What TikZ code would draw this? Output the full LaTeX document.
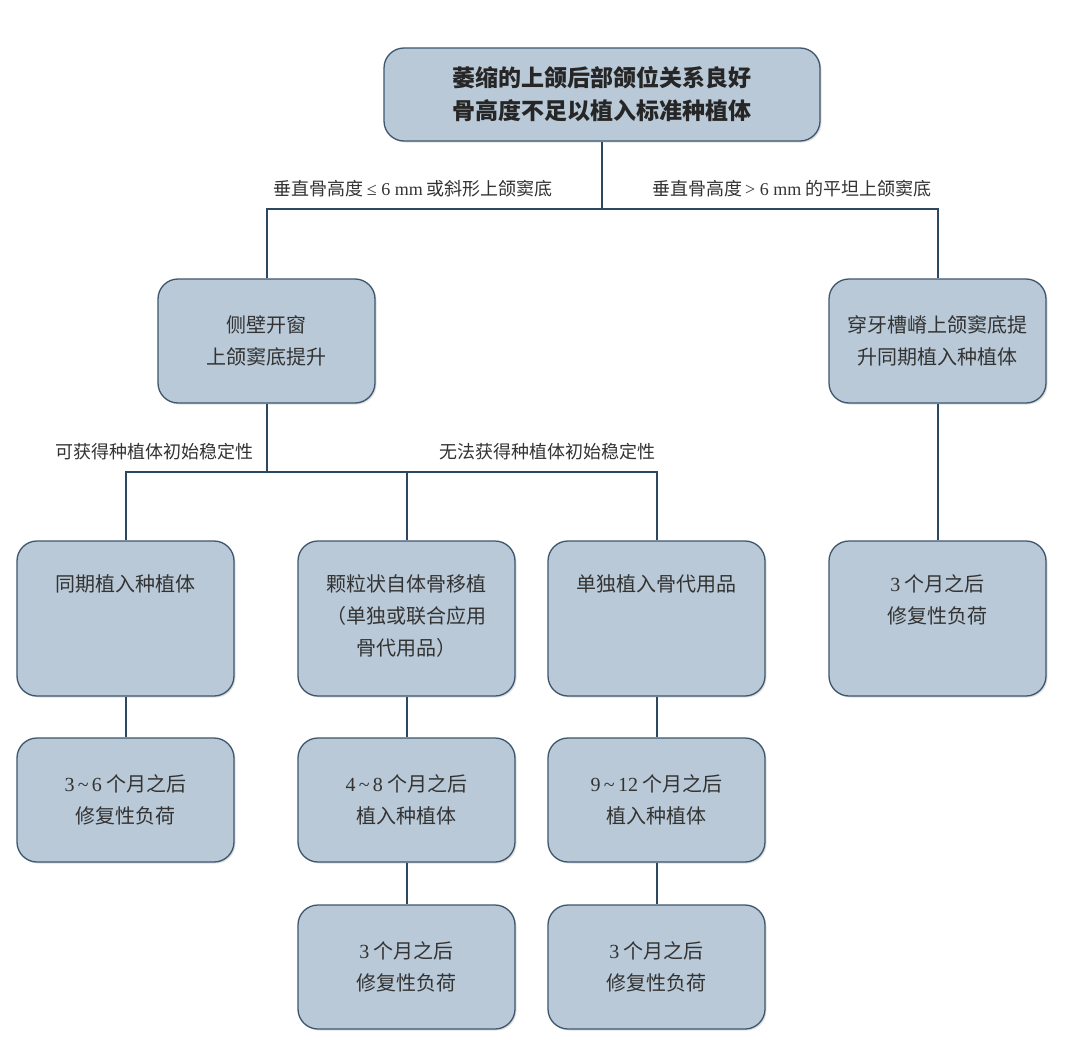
\documentclass[tikz,border=0pt]{standalone}
\usepackage{fontspec}
\setmainfont{Liberation Serif}
\newfontfamily\cjk{Noto Sans CJK SC}
\usetikzlibrary{shadows}
\definecolor{boxfill}{HTML}{B9C9D7}
\definecolor{boxline}{HTML}{3E566E}
\definecolor{conn}{HTML}{2C4760}
\definecolor{txt}{HTML}{333333}
\newcommand\rmn[1]{{\rmfamily #1}}
\begin{document}
\begin{tikzpicture}[x=1pt,y=-1pt,
  box/.style={draw=boxline, line width=1.3pt, fill=boxfill, rounded corners=20pt,
    minimum width=217pt, inner sep=0pt, align=center, text=txt,
    font=\cjk\fontsize{20}{32}\selectfont,
    drop shadow={opacity=0.25, shadow xshift=1.5pt, shadow yshift=-1.5pt, fill=gray}},
  btxt/.style={anchor=north, inner sep=0pt, align=center, text=txt,
    font=\cjk\fontsize{20}{32}\selectfont},
  lbl/.style={inner sep=0pt, text=txt, font=\cjk\fontsize{18}{22}\selectfont},
  conn/.style={draw=conn, line width=2pt}]
\useasboundingbox (0,0) rectangle (1080,1060);
\fill[white] (0,0) rectangle (1080,1060);
% boxes
\node[box, minimum width=436pt, minimum height=93pt,
  font=\cjk\bfseries\fontsize{23}{33}\selectfont, text=black!85] (top) at (602,94.5)
  {萎缩的上颌后部颌位关系良好\\骨高度不足以植入标准种植体};
\node[box, minimum height=124pt] (l2a) at (266.5,341) {侧壁开窗\\上颌窦底提升};
\node[box, minimum height=124pt] (l2b) at (937.5,341) {穿牙槽嵴上颌窦底提\\升同期植入种植体};
\node[box, minimum height=155pt] (l3a) at (125.5,618.5) {};
\node[box, minimum height=155pt] (l3b) at (406.5,618.5) {};
\node[box, minimum height=155pt] (l3c) at (656.5,618.5) {};
\node[box, minimum height=155pt] (l3d) at (937.5,618.5) {};
\node[btxt] (t3a) at (125.5,574) {同期植入种植体};
\node[btxt] (t3b) at (406.5,574) {颗粒状自体骨移植\\（单独或联合应用\\骨代用品）};
\node[btxt] (t3c) at (656.5,574) {单独植入骨代用品};
\node[btxt] (t3d) at (937.5,574) {\rmn{3} 个月之后\\修复性负荷};
\node[box, minimum height=124pt] (l4a) at (125.5,800) {\rmn{3\,\textasciitilde\,6} 个月之后\\修复性负荷};
\node[box, minimum height=124pt] (l4b) at (406.5,800) {\rmn{4\,\textasciitilde\,8} 个月之后\\植入种植体};
\node[box, minimum height=124pt] (l4c) at (656.5,800) {\rmn{9\,\textasciitilde\,12} 个月之后\\植入种植体};
\node[box, minimum height=124pt] (l5b) at (406.5,967) {\rmn{3} 个月之后\\修复性负荷};
\node[box, minimum height=124pt] (l5c) at (656.5,967) {\rmn{3} 个月之后\\修复性负荷};
% labels
\node[lbl, anchor=east] (la) at (553,189) {垂直骨高度\rmn{\,≤\ 6\ mm} 或斜形上颌窦底};
\node[lbl, anchor=west] (lb) at (652,189) {垂直骨高度\rmn{\,>\ 6\ mm} 的平坦上颌窦底};
\node[lbl, anchor=west] (lc) at (55,452) {可获得种植体初始稳定性};
\node[lbl, anchor=east] (ld) at (656,452) {无法获得种植体初始稳定性};
% connectors
\coordinate (j1) at (602,209);
\coordinate (j2) at (266.5,472);
\draw[conn] (top.south) -- (j1);
\draw[conn] (l2a.north) |- (j1) -| (l2b.north);
\draw[conn] (l2a.south) -- (j2);
\draw[conn] (l3a.north) |- (j2) -| (l3c.north);
\draw[conn] (l3b.north) -- (l3b.north |- j2);
\draw[conn] (l2b.south) -- (l3d.north);
\draw[conn] (l3a.south) -- (l4a.north);
\draw[conn] (l3b.south) -- (l4b.north);
\draw[conn] (l3c.south) -- (l4c.north);
\draw[conn] (l4b.south) -- (l5b.north);
\draw[conn] (l4c.south) -- (l5c.north);
\end{tikzpicture}
\end{document}
